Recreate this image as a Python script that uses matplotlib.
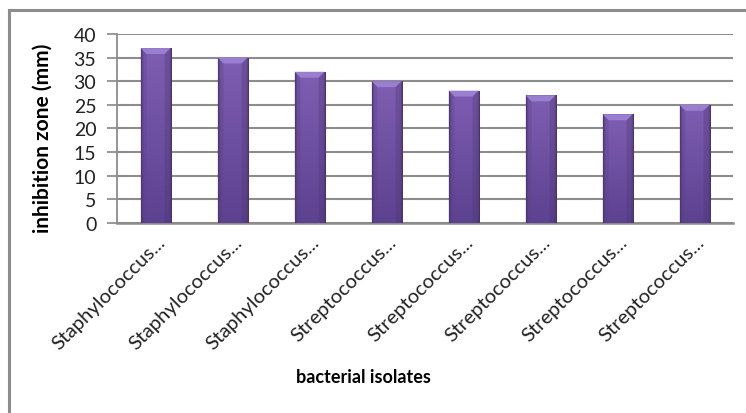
import matplotlib.pyplot as plt
import numpy as np
from matplotlib.colors import to_rgb
from matplotlib.patches import Polygon
from matplotlib.lines import Line2D
from matplotlib.transforms import ScaledTranslation

plt.rcParams['font.family'] = ['Lato', 'DejaVu Sans']

# Inhibition zone per isolate
isolates = ['Staphylococcus...', 'Staphylococcus...', 'Staphylococcus...',
            'Streptococcus...', 'Streptococcus...', 'Streptococcus...',
            'Streptococcus...', 'Streptococcus...']
zones = [37, 35, 32, 30, 28, 27, 23, 25]
y_ticks = [0, 5, 10, 15, 20, 25, 30, 35, 40]

fig = plt.figure(figsize=(7.46, 4.14), dpi=100)
ax = fig.add_axes([0.157, 0.459, 0.8256, 0.4565])

x = np.arange(len(zones))
bars = ax.bar(x, zones, width=0.39, color='#6f52a0', edgecolor='none', zorder=2)

# shaded bar fill: lighter at top, darker at bottom, dark thin sides
top_c = np.array(to_rgb('#7e5eb2'))
bot_c = np.array(to_rgb('#5d4290'))
side_c = np.array(to_rgb('#463266'))
ny, nx = 100, 40
v = np.linspace(0, 1, ny)[:, None, None]
base = top_c * (1 - v) + bot_c * v
u = np.linspace(0, 1, nx)
edge = np.clip(1 - np.minimum(u, 1 - u) / 0.09, 0, 1)[None, :, None] ** 1.5
img = base * (1 - edge) + side_c * edge

bevel_h = 1.25
for b in bars:
    x0, w, h = b.get_x(), b.get_width(), b.get_height()
    im = ax.imshow(img, extent=(x0, x0 + w, 0, h), aspect='auto',
                   zorder=3, interpolation='bilinear')
    im.set_clip_path(b)
    d = w * 0.2
    ax.add_patch(Polygon([(x0, h), (x0 + w, h), (x0 + w - d, h - bevel_h),
                          (x0 + d, h - bevel_h)], closed=True,
                         facecolor='#9a7ecf', edgecolor='none', zorder=4))
    ax.add_patch(Polygon([(x0, h), (x0 + d, h - bevel_h), (x0 + d, 0.2),
                          (x0, 0)], closed=True, facecolor='#5a4088',
                         edgecolor='none', alpha=0.3, zorder=4))
    ax.add_patch(Polygon([(x0 + w, h), (x0 + w - d, h - bevel_h),
                          (x0 + w - d, 0.2), (x0 + w, 0)], closed=True,
                         facecolor='#4a3470', edgecolor='none', alpha=0.3,
                         zorder=4))

ax.set_xlim(-0.5, len(zones) - 0.5)
ax.set_ylim(0, 40)
ax.set_yticks(y_ticks)
ax.tick_params(axis='y', labelsize=14, length=7, color='#888888', width=1.2,
               labelcolor='#222222', pad=8)
ax.set_xticks(x)
ax.set_xticklabels(isolates, rotation=45, ha='right', va='top',
                   rotation_mode='anchor', fontsize=14.5, color='#222222')
ax.tick_params(axis='x', length=0, pad=12)
shift = ScaledTranslation(1 / 100, 7 / 100, fig.dpi_scale_trans)
for lbl in ax.get_xticklabels():
    lbl.set_transform(lbl.get_transform() + shift)

ax.grid(axis='y', color='#8c8c8c', linewidth=1.5, zorder=0)
ax.set_axisbelow(True)
for side in ['top', 'right']:
    ax.spines[side].set_visible(False)
ax.spines['left'].set_color('#8c8c8c')
ax.spines['left'].set_linewidth(1.3)
ax.spines['bottom'].set_color('#8c8c8c')
ax.spines['bottom'].set_linewidth(1.8)

ax.set_ylabel('inhibition zone (mm)', fontsize=15, fontweight='bold')
ax.yaxis.set_label_coords(-0.105, 0.455)
fig.text(0.487, 0.087, 'bacterial isolates', fontsize=13, fontweight='bold',
         ha='center', va='center')

# chart area frame (left and top edges)
fx = 9 / 746
fy = 1 - 10.5 / 414
fig.add_artist(Line2D([fx, fx], [0, fy], transform=fig.transFigure,
                      color='#8c8c8c', linewidth=2.2))
fig.add_artist(Line2D([fx, 1], [fy, fy], transform=fig.transFigure,
                      color='#8c8c8c', linewidth=2.2))

fig.savefig('out.png', dpi=100, facecolor='white')
